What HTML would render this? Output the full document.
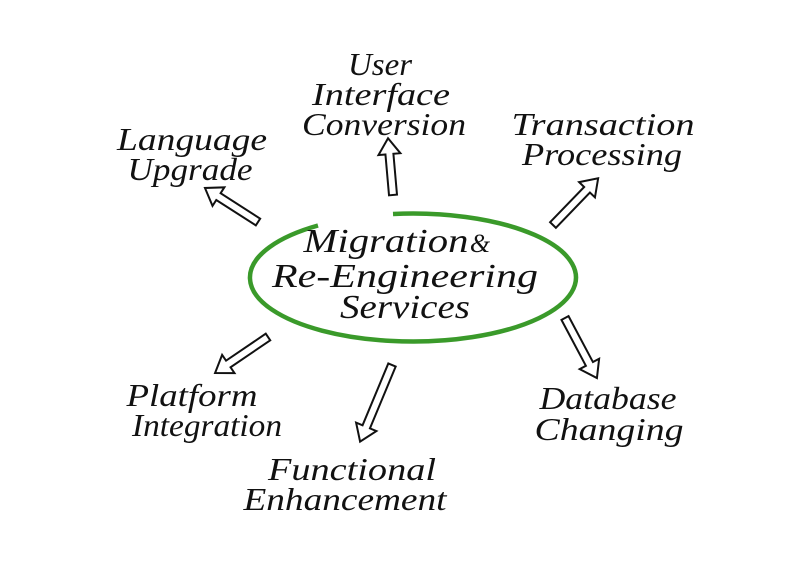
<!DOCTYPE html>
<html><head><meta charset="utf-8"><style>
html,body{margin:0;padding:0;background:#fff;}
svg{display:block;}
text{font-family:"Liberation Serif",serif;font-style:italic;font-size:32px;fill:#111;text-anchor:middle;}
</style></head><body>
<svg width="800" height="566" viewBox="0 0 800 566" xmlns="http://www.w3.org/2000/svg">
<path d="M 393,214 A 163 64 0 1 1 318,225.5" fill="none" stroke="#3a9a2a" stroke-width="4.5"/>
<g fill="#fff" stroke="#111" stroke-width="2" stroke-linejoin="miter">
<g transform="translate(258,222) rotate(212.7)"><polygon points="0,-4 47,-4 47,-11 63,0 47,11 47,4 0,4"/></g>
<g transform="translate(393,195) rotate(-95)"><polygon points="0,-4 41,-4 41,-11 57,0 41,11 41,4 0,4"/></g>
<g transform="translate(553,225) rotate(-46)"><polygon points="0,-4 49,-4 49,-11 65,0 49,11 49,4 0,4"/></g>
<g transform="translate(565,318) rotate(62)"><polygon points="0,-4 52,-4 52,-11 68,0 52,11 52,4 0,4"/></g>
<g transform="translate(392,365) rotate(112.6)"><polygon points="0,-4 67,-4 67,-11 83,0 67,11 67,4 0,4"/></g>
<g transform="translate(268,337) rotate(145.8)"><polygon points="0,-4 48,-4 48,-11 64,0 48,11 48,4 0,4"/></g>
</g>
<g style="" >
<text x="380" y="75" textLength="64" lengthAdjust="spacingAndGlyphs">User</text>
<text x="381" y="105" textLength="138" lengthAdjust="spacingAndGlyphs">Interface</text>
<text x="384" y="135" textLength="164" lengthAdjust="spacingAndGlyphs">Conversion</text>
<text x="192" y="150" textLength="150" lengthAdjust="spacingAndGlyphs">Language</text>
<text x="190" y="180" textLength="125" lengthAdjust="spacingAndGlyphs">Upgrade</text>
<text x="603" y="135" textLength="183" lengthAdjust="spacingAndGlyphs">Transaction</text>
<text x="602" y="165" textLength="160" lengthAdjust="spacingAndGlyphs">Processing</text>
<text x="386" y="252" textLength="165" lengthAdjust="spacingAndGlyphs" style="font-size:34px">Migration</text>
<text x="480" y="252" style="font-size:26px">&amp;</text>
<text x="405" y="287" textLength="266" lengthAdjust="spacingAndGlyphs" style="font-size:34px">Re-Engineering</text>
<text x="405" y="318" textLength="130" lengthAdjust="spacingAndGlyphs" style="font-size:34px">Services</text>
<text x="192" y="406" textLength="131" lengthAdjust="spacingAndGlyphs">Platform</text>
<text x="207" y="436" textLength="150" lengthAdjust="spacingAndGlyphs">Integration</text>
<text x="608" y="409" textLength="137" lengthAdjust="spacingAndGlyphs">Database</text>
<text x="609" y="440" textLength="149" lengthAdjust="spacingAndGlyphs">Changing</text>
<text x="352" y="480" textLength="168" lengthAdjust="spacingAndGlyphs">Functional</text>
<text x="345" y="510" textLength="203" lengthAdjust="spacingAndGlyphs">Enhancement</text>
</g>
</svg>
</body></html>
